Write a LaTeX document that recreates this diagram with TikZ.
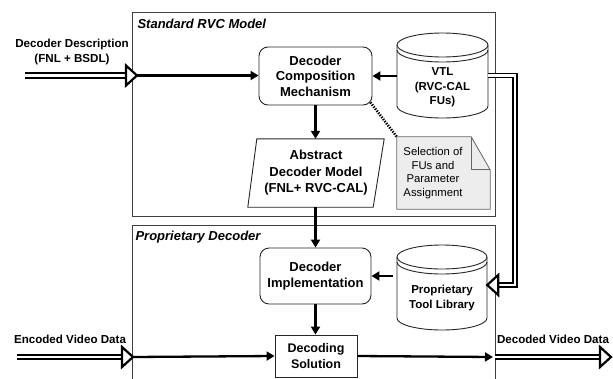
\documentclass[tikz,border=0pt]{standalone}
\usepackage{fontspec}
\setmainfont{Liberation Sans}
\usetikzlibrary{arrows.meta,calc}
\pgfdeclarelayer{bg}
\pgfsetlayers{bg,main}

\tikzset{
  frame/.style={draw=black!75, line width=1pt},
  title/.style={anchor=west, font=\bfseries\itshape\fontsize{13}{15}\selectfont},
  rbox/.style={draw=black!85, line width=0.9pt, rounded corners=9pt, align=center,
    font=\bfseries\fontsize{13}{15.5}\selectfont},
  sbox/.style={draw=black!85, line width=0.9pt, align=center,
    font=\bfseries\fontsize{12.5}{16}\selectfont},
  plain/.style={align=center, font=\bfseries\fontsize{13}{16.5}\selectfont},
  cyltext/.style={align=center, font=\bfseries\fontsize{11.5}{14.5}\selectfont},
  label/.style={align=center, font=\bfseries\fontsize{11.6}{14.5}\selectfont},
  notetext/.style={align=center, font=\fontsize{11.3}{13.5}\selectfont},
  cyl/.style={draw=black!85, line width=0.9pt, fill=white},
  arr/.style={line width=2.3pt, -{Triangle[length=8pt,width=9pt]}},
  dbl/.style={draw=black, line width=2.2pt, double=white, double distance=2.4pt},
  dblthin/.style={draw=black, line width=1.8pt, double=white, double distance=2.2pt, line join=miter},
  dots/.style={line width=2.6pt, dash pattern=on 1.3pt off 1.3pt},
  ohead/.pic={\draw[line width=2.2pt, fill=white, line join=miter] (-11,-10) -- (0,0) -- (-11,10) -- cycle;}
}

\begin{document}
\begin{tikzpicture}[x=1pt, y=-1pt]
\useasboundingbox (0,0) rectangle (613,378);
\clip (0,0) rectangle (613,378);

% the two outer frames
\node[frame, minimum width=363pt, minimum height=204pt, inner sep=0pt] (std) at (313.5,114) {};
\node[frame, minimum width=363pt, minimum height=180pt, inner sep=0pt] (prop) at (313.5,315) {};
\node[title] (stdtitle) at (134,24) {Standard RVC Model};
\node[title] (proptitle) at (132,237) {Proprietary Decoder};

% VTL cylinder
\draw[cyl] (397,45) -- (397,106) arc[start angle=180, end angle=360, x radius=45.5pt, y radius=12pt] -- (488,45);
\draw[cyl] (442.5,45) ellipse [x radius=45.5pt, y radius=12pt];
\draw[cyl, fill=none] (397,50) arc[start angle=180, end angle=360, x radius=45.5pt, y radius=12pt];
\node[cyltext, minimum width=91pt, minimum height=61pt, inner sep=0pt] (vtl) at (442.5,87.5) {VTL\\(RVC-CAL\\FUs)};

% proprietary tool library cylinder
\draw[cyl] (397,257) -- (397,318) arc[start angle=180, end angle=360, x radius=45pt, y radius=12pt] -- (487,257);
\draw[cyl] (442,257) ellipse [x radius=45pt, y radius=12pt];
\draw[cyl, fill=none] (397,262) arc[start angle=180, end angle=360, x radius=45pt, y radius=12pt];
\node[cyltext, minimum width=90pt, minimum height=58pt, inner sep=0pt] (ptl) at (442,298) {Proprietary\\Tool Library};

% main blocks
\node[rbox, minimum width=113pt, minimum height=58pt, inner sep=0pt] (dcm) at (315.5,76) {Decoder\\Composition\\Mechanism};
\node[rbox, minimum width=111pt, minimum height=56pt, inner sep=0pt] (di) at (315.5,276) {Decoder\\Implementation};
\node[sbox, minimum width=82pt, minimum height=42pt, inner sep=0pt, fill=white] (ds) at (316,356) {Decoding\\Solution};

% abstract decoder model (parallelogram)
\node[plain, minimum width=136pt, minimum height=68pt, inner sep=0pt] (adm) at (316,173) {Abstract\\Decoder Model\\(FNL+ RVC-CAL)};
\begin{pgfonlayer}{bg}
\draw[draw=black!85, line width=0.9pt, fill=white]
  ($(adm.north west)+(9,0)$) -- (adm.north east) -- ($(adm.south east)+(-11,0)$) -- (adm.south west) -- cycle;
\end{pgfonlayer}

% note with folded corner; the text sits left of the fold
\node[notetext, minimum width=72pt, minimum height=72pt, inner sep=0pt] (note) at (433,173) {Selection of\\FUs and\\Parameter\\Assignment};
\begin{pgfonlayer}{bg}
\draw[draw=black!60, line width=0.8pt, fill=black!7]
  (note.north west) -- ($(note.north east)+(2,0)$) -- ($(note.north east)+(21,33)$) -- ($(note.south east)+(21,0)$) -- (note.south west) -- cycle;
\draw[draw=black!60, line width=0.8pt]
  ($(note.north east)+(2,0)$) -- ($(note.north east)+(2,33)$) -- ($(note.north east)+(21,33)$);
\end{pgfonlayer}

% outside labels
\node[label] (desc) at (72,52) {Decoder Description\\(FNL + BSDL)};
\node[label] (enc) at (70,339) {Encoded Video Data};
\node[label] (dec) at (553,339) {Decoded Video Data};

% free ends of the outside connectors
\coordinate (descin) at (25,75.5);
\coordinate (desctip) at (137,75.5);
\coordinate (encin) at (17,357);
\coordinate (enctip) at (133,357);
\coordinate (decmid) at (493,357);
\coordinate (decout) at (612,357);

% decoder description input
\draw[dbl] (descin) -- ($(desctip)+(-11,0)$);
\pic at (desctip) {ohead};
\draw[arr] (desctip) -- (dcm.west |- desctip);

% internal flow
\draw[arr] (vtl.west |- dcm.east) -- (dcm.east);
\draw[arr] (dcm.south) -- (adm.north -| dcm.south);
\draw[arr] (adm.south -| di.north) -- (di.north);
\draw[arr, shorten <=4pt] (ptl.west |- di.east) -- (di.east);
\draw[arr] (di.south) -- (ds.north -| di.south);
\draw[dots] ($(dcm.south east)+(-2,-3)$) -- (note.north west);

% VTL content handed over to the proprietary tool library
\draw[dblthin] (vtl.east |- 0,75.5) -- (515,75.5) -- (515,285) -- ($(ptl.east |- 0,285)+(12,0)$);
\pic[rotate=180] at (ptl.east |- 0,285) {ohead};

% encoded video in, decoded video out
\draw[dbl] (encin) -- ($(enctip)+(-11,0)$);
\pic at (enctip) {ohead};
\draw[arr] (enctip) -- (ds.west);
\draw[arr] (ds.east) -- (decmid);
\draw[dbl] ($(decmid)+(2,0)$) -- ($(decout)+(-11,0)$);
\pic at ($(decout)+(-1,0)$) {ohead};
\end{tikzpicture}
\end{document}
